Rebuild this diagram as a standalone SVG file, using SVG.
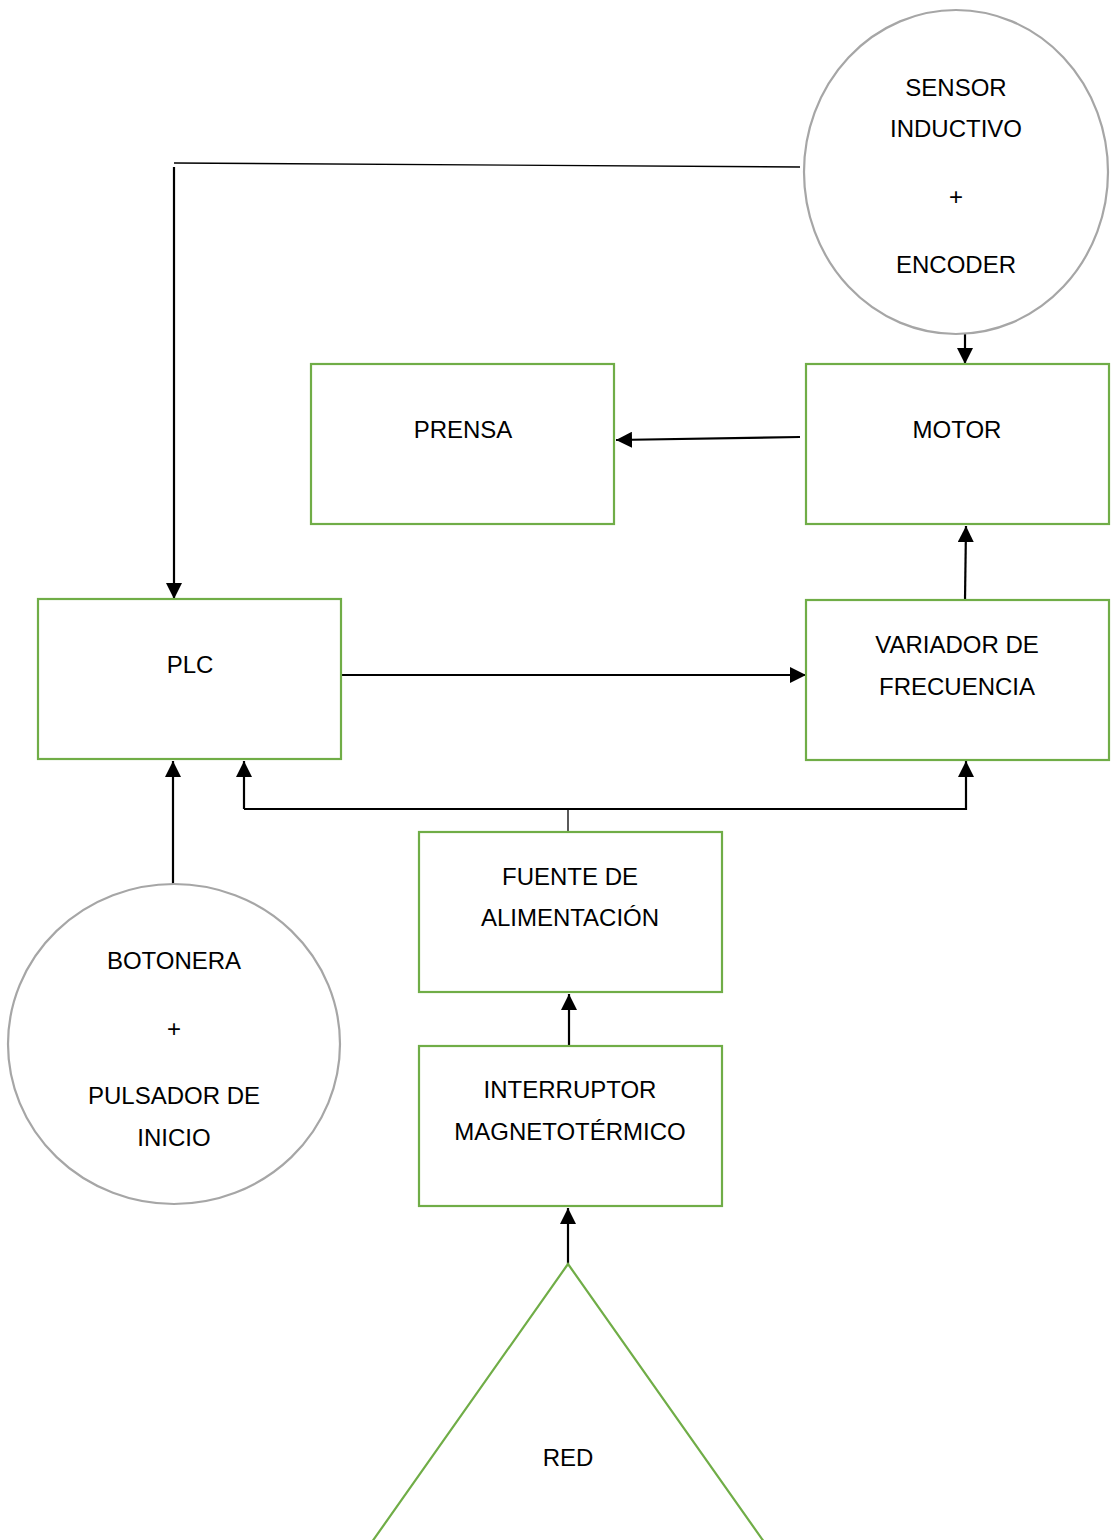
<svg xmlns="http://www.w3.org/2000/svg" width="1112" height="1540" viewBox="0 0 1112 1540">
  <style>
    .box { fill: #ffffff; stroke: #70ad47; stroke-width: 2.2; }
    .round { fill: #ffffff; stroke: #a6a6a6; stroke-width: 2.2; }
    .lbl { font-family: "Liberation Sans", Arial, sans-serif; font-size: 24px; fill: #000000; text-anchor: middle; }
    .wire { fill: none; stroke: #000000; stroke-width: 2.2; }
    .thin { fill: none; stroke: #000000; stroke-width: 1.3; }
  </style>
  <defs>
    <marker id="head" viewBox="0 0 16 16" refX="16" refY="8" markerWidth="16" markerHeight="16" markerUnits="userSpaceOnUse" orient="auto">
      <path d="M0,0 L16,8 L0,16 Z" fill="#000000"/>
    </marker>
  </defs>
  <rect width="1112" height="1540" fill="#ffffff"/>

  <!-- connectors -->
  <g id="connectors">
    <path class="thin" d="M174,163 L800,167"/>
    <path class="wire" d="M174,167 L174,599" marker-end="url(#head)"/>
    <path class="wire" d="M965,334 L965,364" marker-end="url(#head)"/>
    <path class="wire" d="M800,437 L616,440" marker-end="url(#head)"/>
    <path class="wire" d="M965,600 L966,526" marker-end="url(#head)"/>
    <path class="wire" d="M341,675 L806,675" marker-end="url(#head)"/>
    <path class="wire" d="M244,809 L244,761" marker-end="url(#head)"/>
    <path class="wire" d="M244,809 L966,809 L966,761" marker-end="url(#head)"/>
    <path class="thin" d="M568,809 L568,832"/>
    <path class="wire" d="M569,1046 L569,994" marker-end="url(#head)"/>
    <path class="wire" d="M568,1264 L568,1208" marker-end="url(#head)"/>
    <path class="wire" d="M173,884 L173,761" marker-end="url(#head)"/>
  </g>

  <!-- sensor + encoder -->
  <g id="sensor">
    <ellipse class="round" cx="956" cy="172" rx="152" ry="162"/>
    <text class="lbl" x="956" y="96">SENSOR</text>
    <text class="lbl" x="956" y="137">INDUCTIVO</text>
    <text class="lbl" x="956" y="205">+</text>
    <text class="lbl" x="956" y="273">ENCODER</text>
  </g>

  <g id="prensa">
    <rect class="box" x="311" y="364" width="303" height="160"/>
    <text class="lbl" x="463" y="438">PRENSA</text>
  </g>

  <g id="motor">
    <rect class="box" x="806" y="364" width="303" height="160"/>
    <text class="lbl" x="957" y="438">MOTOR</text>
  </g>

  <g id="plc">
    <rect class="box" x="38" y="599" width="303" height="160"/>
    <text class="lbl" x="190" y="673">PLC</text>
  </g>

  <g id="variador">
    <rect class="box" x="806" y="600" width="303" height="160"/>
    <text class="lbl" x="957" y="653">VARIADOR DE</text>
    <text class="lbl" x="957" y="695">FRECUENCIA</text>
  </g>

  <g id="fuente">
    <rect class="box" x="419" y="832" width="303" height="160"/>
    <text class="lbl" x="570" y="885">FUENTE DE</text>
    <text class="lbl" x="570" y="926">ALIMENTACIÓN</text>
  </g>

  <g id="interruptor">
    <rect class="box" x="419" y="1046" width="303" height="160"/>
    <text class="lbl" x="570" y="1098">INTERRUPTOR</text>
    <text class="lbl" x="570" y="1140">MAGNETOTÉRMICO</text>
  </g>

  <g id="botonera">
    <ellipse class="round" cx="174" cy="1044" rx="166" ry="160"/>
    <text class="lbl" x="174" y="969">BOTONERA</text>
    <text class="lbl" x="174" y="1037">+</text>
    <text class="lbl" x="174" y="1104">PULSADOR DE</text>
    <text class="lbl" x="174" y="1146">INICIO</text>
  </g>

  <g id="red">
    <path class="box" d="M568,1264 L362,1556 L774,1556 Z"/>
    <text class="lbl" x="568" y="1466">RED</text>
  </g>
</svg>
